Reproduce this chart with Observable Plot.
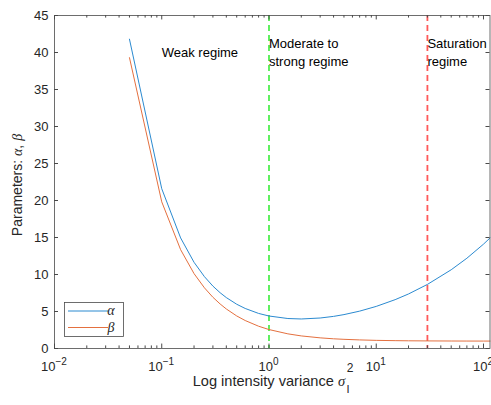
<!DOCTYPE html>
<html>
<head>
<meta charset="utf-8">
<script src="https://cdn.jsdelivr.net/npm/d3@7"></script>
<script src="https://cdn.jsdelivr.net/npm/@observablehq/plot@0.6"></script>
<style>
  body { margin: 0; background: #fff; }
  #chart { width: 491px; height: 405px; }
  svg { font-family: "Liberation Sans", Arial, sans-serif; }
</style>
</head>
<body>
<div id="chart"></div>
<script>
// ---- data ----
const sigma2 = [0.05, 0.1, 0.15, 0.2, 0.25, 0.3, 0.35, 0.4, 0.5, 0.6, 0.8, 1, 1.5, 2, 3, 4, 5, 7, 10, 15, 20, 30, 50, 70, 100, 115];
const alphaVals = [41.8, 21.59, 14.94, 11.65, 9.71, 8.43, 7.54, 6.88, 5.98, 5.41, 4.74, 4.39, 4.05, 3.99, 4.12, 4.34, 4.58, 5.05, 5.69, 6.60, 7.37, 8.66, 10.64, 12.20, 14.10, 14.94];
const betaVals  = [39.3, 19.82, 13.35, 10.12, 8.20, 6.92, 6.02, 5.34, 4.40, 3.78, 3.01, 2.56, 1.98, 1.70, 1.44, 1.31, 1.24, 1.16, 1.10, 1.06, 1.04, 1.025, 1.012, 1.007, 1.0035, 1.0027];
const seriesNames = ["α", "β"];
const seriesColors = ["#2b8ad0", "#e4703f"];
const regimeBounds = [1, 30];
const regimeColors = ["#1eea1e", "#ff5a5a"];
const regimeLabelX = [0.1, 1, 30];
const regimeLabelText = ["Weak regime", "Moderate to\nstrong regime", "Saturation\nregime"];
const xMajorTicks = [0.01, 0.1, 1, 10, 100];
const xTickExponents = ["\u22122", "\u22121", "0", "1", "2"];
const yTicks = [0, 5, 10, 15, 20, 25, 30, 35, 40, 45];
const xDomain = [0.01, 115];
const yDomain = [0, 45];

// ---- derived tables ----
const rows = sigma2.flatMap((s, i) => [
  {s, v: alphaVals[i], k: seriesNames[0]},
  {s, v: betaVals[i], k: seriesNames[1]}
]);
const xMinorTicks = [];
for (const d of xMajorTicks) for (let m = 2; m <= 9; m++) { const t = d * m; if (t <= xDomain[1]) xMinorTicks.push(t); }
const labels = regimeLabelX.map((x, i) => ({x, t: regimeLabelText[i]}));
const textColor = "#262626";
const axisColor = "#4a4a4a";

const plot = Plot.plot({
  width: 491,
  height: 405,
  marginLeft: 54,
  marginRight: 1.5,
  marginTop: 15,
  marginBottom: 57,
  style: {fontFamily: "Liberation Sans, Arial, sans-serif", background: "#fff"},
  x: {type: "log", domain: xDomain, axis: null},
  y: {domain: yDomain, axis: null},
  color: {domain: seriesNames, range: seriesColors},
  marks: [
    Plot.ruleX([regimeBounds[0]], {stroke: regimeColors[0], strokeWidth: 1.4, strokeDasharray: "6,4"}),
    Plot.ruleX([regimeBounds[1]], {stroke: regimeColors[1], strokeWidth: 1.8, strokeDasharray: "6,4"}),
    Plot.line(rows, {x: "s", y: "v", stroke: "k", strokeWidth: 1}),
    Plot.text(labels, {x: "x", y: 40.2, text: "t", textAnchor: "start", fontSize: 13, lineHeight: 1.38, fill: "#000"}),
    // inward ticks
    Plot.ruleX(xMajorTicks, {y1: 0, y2: 0.6, stroke: axisColor}),
    Plot.ruleX(xMajorTicks, {y1: 45, y2: 44.4, stroke: axisColor}),
    Plot.ruleX(xMinorTicks, {y1: 0, y2: 0.35, stroke: axisColor}),
    Plot.ruleX(xMinorTicks, {y1: 45, y2: 44.65, stroke: axisColor}),
    Plot.ruleY(yTicks, {x1: xDomain[0], x2: xDomain[0] * 1.09, stroke: axisColor}),
    Plot.ruleY(yTicks, {x1: xDomain[1], x2: xDomain[1] / 1.09, stroke: axisColor}),
    Plot.axisY(yTicks, {tickSize: 0, tickPadding: 6, fontSize: 13, fill: textColor, label: null}),
    Plot.frame({stroke: axisColor, strokeWidth: 0.8})
  ]
});

const svg = d3.select(plot);
const xs = plot.scale("x");
const cs = plot.scale("color");

// x tick labels with superscripts
xMajorTicks.forEach((t, i) => {
  const tx = svg.append("text")
    .attr("x", xs.apply(t)).attr("y", 371)
    .attr("text-anchor", "middle").attr("fill", textColor).attr("font-size", 13);
  tx.append("tspan").text("10");
  tx.append("tspan").attr("dy", -6).attr("font-size", 10).text(xTickExponents[i]);
});

// x label
const xl = svg.append("text")
  .attr("x", 273).attr("y", 386).attr("text-anchor", "middle")
  .attr("fill", textColor).attr("font-size", 14.6);
xl.append("tspan").text("Log intensity variance ");
xl.append("tspan").attr("font-family", "Liberation Serif, serif").attr("font-style", "italic").text("σ");
xl.append("tspan").attr("font-size", 11).attr("dy", 7).attr("dx", 1.5).text("I");
xl.append("tspan").attr("font-size", 12).attr("dy", -21).attr("dx", -3).text("2");

// y label
const yl = svg.append("text")
  .attr("transform", "translate(22,185) rotate(-90)")
  .attr("text-anchor", "middle").attr("fill", textColor).attr("font-size", 14);
yl.append("tspan").text("Parameters: ");
yl.append("tspan").attr("font-family", "Liberation Serif, serif").attr("font-style", "italic").text("α");
yl.append("tspan").text(", ");
yl.append("tspan").attr("font-family", "Liberation Serif, serif").attr("font-style", "italic").text("β");

// legend
const lg = svg.append("g");
lg.append("rect").attr("x", 64.5).attr("y", 302.5).attr("width", 59).attr("height", 34)
  .attr("fill", "#fff").attr("stroke", axisColor).attr("stroke-width", 0.8);
seriesNames.forEach((n, i) => {
  const y = 311 + i * 16.5;
  lg.append("line").attr("x1", 68).attr("x2", 108).attr("y1", y).attr("y2", y)
    .attr("stroke", cs.apply(n)).attr("stroke-width", 1);
  lg.append("text").attr("x", 111).attr("y", y + 4)
    .attr("font-family", "Liberation Serif, serif").attr("font-style", "italic")
    .attr("font-size", 14).attr("fill", textColor).text(n);
});

document.getElementById("chart").appendChild(plot);
</script>
</body>
</html>
